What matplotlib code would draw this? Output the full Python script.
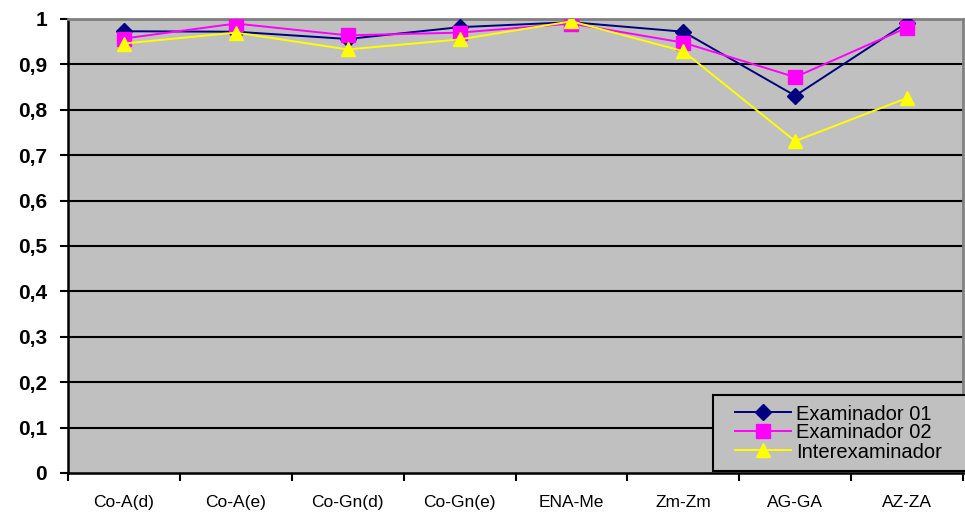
import numpy as np
import matplotlib.pyplot as plt
from matplotlib.patches import Rectangle
from matplotlib.ticker import FixedLocator, FuncFormatter

plt.rcParams['font.family'] = ['Liberation Sans', 'DejaVu Sans']

medidas = ['Co-A(d)', 'Co-A(e)', 'Co-Gn(d)', 'Co-Gn(e)', 'ENA-Me', 'Zm-Zm', 'AG-GA', 'AZ-ZA']
examinador_01 = [0.973, 0.972, 0.956, 0.982, 0.993, 0.972, 0.831, 0.992]
examinador_02 = [0.957, 0.990, 0.964, 0.970, 0.990, 0.948, 0.872, 0.981]
interexaminador = [0.946, 0.970, 0.933, 0.955, 0.995, 0.929, 0.731, 0.826]
y_ticks = [0, 0.1, 0.2, 0.3, 0.4, 0.5, 0.6, 0.7, 0.8, 0.9, 1.0]

fig = plt.figure(figsize=(9.65, 5.12), dpi=100)
ax = fig.add_axes([68 / 965, 39 / 512, 895 / 965, 454 / 512])
ax.set_facecolor('#C0C0C0')

x = np.arange(len(medidas))
ax.plot(x, examinador_01, color='#000080', lw=1.4, marker='D', ms=8,
        mfc='#000080', mec='#000080', label='Examinador 01', zorder=3)
ax.plot(x, examinador_02, color='#FF00FF', lw=1.4, marker='s', ms=10,
        mfc='#FF00FF', mec='#FF00FF', label='Examinador 02', zorder=4)
ax.plot(x, interexaminador, color='#FFFF00', lw=1.4, marker='^', ms=10,
        mfc='#FFFF00', mec='#FFFF00', label='Interexaminador', zorder=5)

ax.set_xlim(-0.5, len(medidas) - 0.5)
ax.set_ylim(0, 1)

# horizontal grid in black
for v in y_ticks[1:-1]:
    ax.axhline(v, color='black', lw=1.5, zorder=1)

ax.set_yticks(y_ticks)
ax.yaxis.set_major_formatter(FuncFormatter(lambda v, p: ('%g' % round(v, 1)).replace('.', ',')))
ax.tick_params(axis='y', length=6, width=1.5, pad=9, labelsize=15)
for lab in ax.get_yticklabels():
    lab.set_fontweight('bold')

ax.set_xticks(x)
ax.set_xticklabels(medidas)
ax.xaxis.set_minor_locator(FixedLocator(np.arange(-0.5, len(medidas), 1.0)))
ax.tick_params(axis='x', which='major', length=0, pad=16, labelsize=12.5)
ax.tick_params(axis='x', which='minor', length=6, width=1.5)

ax.spines['left'].set_linewidth(1.8)
ax.spines['bottom'].set_linewidth(1.8)
ax.spines['top'].set_color('#808080')
ax.spines['top'].set_linewidth(2)
ax.spines['right'].set_color('#808080')
ax.spines['right'].set_linewidth(2)

# legend box drawn separately so the entries can sit inset from its left edge
box = Rectangle((713 / 965, 41 / 512), 260 / 965, 76 / 512, transform=fig.transFigure,
                facecolor='#C0C0C0', edgecolor='black', lw=1.5, zorder=9)
fig.patches.append(box)

leg = fig.legend(*ax.get_legend_handles_labels(), loc='center left',
                 bbox_to_anchor=(735 / 965, 79 / 512), bbox_transform=fig.transFigure,
                 fontsize=14.5, frameon=False, borderaxespad=0, borderpad=0,
                 handlelength=2.8, labelspacing=0.0, handletextpad=0.25)
leg.set_zorder(10)

fig.savefig('out.png', dpi=100)
